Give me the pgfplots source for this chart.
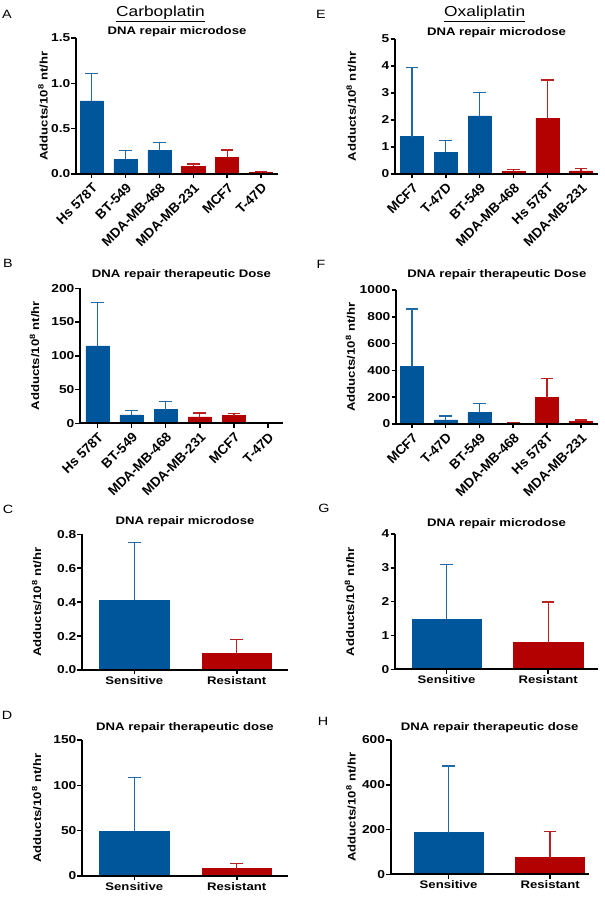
\documentclass[border=0pt]{standalone}
\usepackage{fontspec}
\setmainfont[FakeStretch=1.2]{Liberation Sans}
\newfontfamily\rotfont{Liberation Sans}
\usepackage{pgfplots}
\pgfplotsset{compat=1.18}
\definecolor{cblue}{RGB}{0,86,154}
\definecolor{cred}{RGB}{179,0,0}
\pgfplotsset{
  panel/.style={
    scale only axis,
    anchor=south west,
    axis x line*=bottom, axis y line*=left,
    axis line style={line width=1.8bp,-},
    ymin=0,
    tick align=outside,
    major tick length=4.5bp,
    every tick/.style={line width=1.5bp, black},
    /pgf/number format/assume math mode=true,
    /pgf/number format/1000 sep={},
    yticklabel style={font=\fontsize{11.5}{12}\bfseries\selectfont, inner sep=1bp},
    xticklabel style={font=\fontsize{11}{12}\bfseries\selectfont},
    title style={font=\fontsize{11}{12}\bfseries\selectfont, anchor=base, at={(0.5,1)}},
    ylabel style={font=\fontsize{11}{12}\bfseries\selectfont, anchor=center},
    ylabel={Adducts/10\textsuperscript{8} nt/hr},
    axis on top,
  },
  six/.style={xtick={0,1,2,3,4,5}, xticklabel style={rotate=45, anchor=north east, inner sep=2.5bp, font=\rotfont\fontsize{13.5}{14}\bfseries\selectfont}},
  two/.style={xtick={0,1}, xticklabels={Sensitive,Resistant}, xticklabel style={inner sep=2bp}},
  bars/.style={ybar, bar width=0.68, bar shift=0pt, fill=#1, draw=#1, line width=0.5bp,
    error bars/.cd, y dir=plus, y explicit,
    error bar style={line width=1.3bp, color=#1!88!white},
    error mark options={rotate=90, mark size=6.3bp, line width=1.3bp, color=#1!88!white}},
}
\begin{document}
\begin{tikzpicture}
\path[use as bounding box] (0,0) rectangle (605bp,897bp);
% headers
\node[font=\fontsize{14.5}{16}\selectfont, anchor=base] at (160.5bp,880.3bp) {\underline{Carboplatin}};
\node[font=\fontsize{14.5}{16}\selectfont, anchor=base] at (484.7bp,880.3bp) {\underline{Oxaliplatin}};
% panel letters
\foreach \l/\x/\y in {A/7/14, B/8/263.5, C/8/509, D/7/715, E/321/14, F/321/264, G/324/508, H/323/721}{
  \node[font=\fontsize{12}{14}\selectfont, anchor=center] at (\x bp, 897bp-\y bp) {\l};
}
% ---------- A ----------
\begin{axis}[panel, six, at={(76bp,723bp)}, width=202bp, height=136bp,
  xmin=-0.46, xmax=5.5, ymax=1.5, ytick={0,0.5,1,1.5},
  yticklabel style={/pgf/number format/.cd, fixed, fixed zerofill, precision=1},
  xticklabels={Hs 578T, BT-549, MDA-MB-468, MDA-MB-231, MCF7, T-47D},
  title={DNA repair microdose}, title style={yshift=-2.3bp},
  ylabel style={at={(axis description cs:-0.163,0.5)}}]
\addplot[bars=cblue] coordinates {(0,0.807) +- (0,0.299) (1,0.162) +- (0,0.096) (2,0.258) +- (0,0.092)};
\addplot[bars=cred] coordinates {(3,0.088) +- (0,0.022) (4,0.18) +- (0,0.085) (5,0.018) +- (0,0.008)};
\end{axis}
% ---------- B ----------
\begin{axis}[panel, six, at={(80bp,473.7bp)}, width=203bp, height=135bp,
  xmin=-0.51, xmax=5.44, ymax=200, ytick={0,50,100,150,200},
  xticklabels={Hs 578T, BT-549, MDA-MB-468, MDA-MB-231, MCF7, T-47D},
  title={DNA repair therapeutic Dose}, title style={yshift=5bp},
  ylabel style={at={(axis description cs:-0.224,0.5)}}]
\addplot[bars=cblue] coordinates {(0,114.6) +- (0,64.4) (1,12.3) +- (0,6.5) (2,20.2) +- (0,12.4)};
\addplot[bars=cred] coordinates {(3,9.4) +- (0,5.9) (4,11.4) +- (0,3.4) (5,1.0) +- (0,0.5)};
\end{axis}
% ---------- C ----------
\begin{axis}[panel, two, at={(82bp,227bp)}, width=206bp, height=135.7bp,
  xmin=-0.51, xmax=1.5, ymax=0.8, ytick={0,0.2,0.4,0.6,0.8},
  yticklabel style={/pgf/number format/.cd, fixed, fixed zerofill, precision=1},
  title={DNA repair microdose}, title style={yshift=4bp},
  ylabel style={at={(axis description cs:-0.22,0.5)}}]
\addplot[bars=cblue] coordinates {(0,0.413) +- (0,0.337)};
\addplot[bars=cred] coordinates {(1,0.098) +- (0,0.081)};
\end{axis}
% ---------- D ----------
\begin{axis}[panel, two, at={(82bp,21bp)}, width=206bp, height=136bp,
  xmin=-0.51, xmax=1.5, ymax=150, ytick={0,50,100,150},
  title={DNA repair therapeutic dose}, title style={yshift=4bp},
  ylabel style={at={(axis description cs:-0.22,0.5)}}]
\addplot[bars=cblue] coordinates {(0,49.6) +- (0,58.9)};
\addplot[bars=cred] coordinates {(1,8.1) +- (0,5.5)};
\end{axis}
% ---------- E ----------
\begin{axis}[panel, six, at={(395bp,723bp)}, width=203bp, height=135bp,
  xmin=-0.5, xmax=5.5, ymax=5, ytick={0,1,2,3,4,5},
  xticklabels={MCF7, T-47D, BT-549, MDA-MB-468, Hs 578T, MDA-MB-231},
  title={DNA repair microdose}, title style={yshift=-2bp},
  ylabel style={at={(axis description cs:-0.215,0.5)}}]
\addplot[bars=cblue] coordinates {(0,1.386) +- (0,2.564) (1,0.80) +- (0,0.45) (2,2.15) +- (0,0.87)};
\addplot[bars=cred] coordinates {(3,0.10) +- (0,0.07) (4,2.05) +- (0,1.43) (5,0.12) +- (0,0.08)};
\end{axis}
% ---------- F ----------
\begin{axis}[panel, six, at={(396bp,473bp)}, width=201.7bp, height=134bp,
  xmin=-0.47, xmax=5.5, ymax=1000, ytick={0,200,400,600,800,1000},
  xticklabels={MCF7, T-47D, BT-549, MDA-MB-468, Hs 578T, MDA-MB-231},
  title={DNA repair therapeutic Dose}, title style={yshift=6.5bp},
  ylabel style={at={(axis description cs:-0.226,0.5)}}]
\addplot[bars=cblue] coordinates {(0,429) +- (0,429) (1,30) +- (0,30) (2,89) +- (0,65)};
\addplot[bars=cred] coordinates {(3,7) +- (0,5) (4,196) +- (0,141) (5,20) +- (0,10)};
\end{axis}
% ---------- G ----------
\begin{axis}[panel, two, at={(395bp,227.7bp)}, width=203bp, height=135.3bp,
  xmin=-0.507, xmax=1.49, ymax=4, ytick={0,1,2,3,4},
  title={DNA repair microdose}, title style={yshift=1.5bp},
  ylabel style={at={(axis description cs:-0.224,0.5)}}]
\addplot[bars=cblue] coordinates {(0,1.49) +- (0,1.61)};
\addplot[bars=cred] coordinates {(1,0.80) +- (0,1.19)};
\end{axis}
% ---------- H ----------
\begin{axis}[panel, two, at={(390.7bp,22.7bp)}, width=198bp, height=134.3bp,
  xmin=-0.57, xmax=1.38, ymax=600, ytick={0,200,400,600},
  title={DNA repair therapeutic dose}, title style={yshift=4bp},
  ylabel style={at={(axis description cs:-0.2,0.5)}}]
\addplot[bars=cblue] coordinates {(0,186) +- (0,298)};
\addplot[bars=cred] coordinates {(1,74.4) +- (0,116.2)};
\end{axis}
\end{tikzpicture}
\end{document}
